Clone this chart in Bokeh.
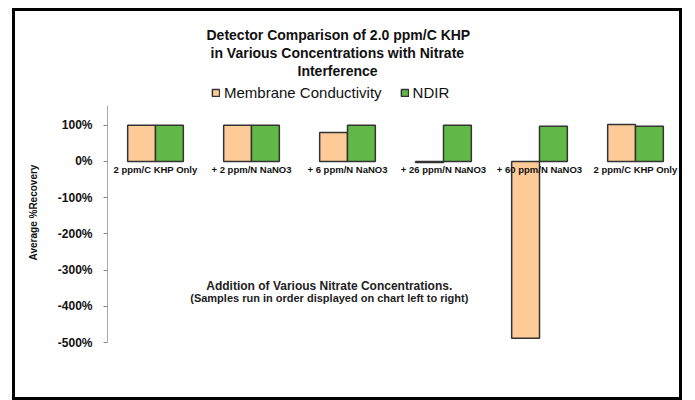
from bokeh.plotting import figure
from bokeh.models import (ColumnDataSource, Range1d, FixedTicker, PrintfTickFormatter,
                          Title, Legend, LegendItem, Label)
from bokeh.transform import dodge
from bokeh.core.properties import value
from bokeh.embed import file_html
from bokeh.resources import INLINE

# ---- data ----
categories = ["2 ppm/C KHP Only", "+ 2 ppm/N NaNO3", "+ 6 ppm/N NaNO3",
              "+ 26 ppm/N NaNO3", "+ 60 ppm/N NaNO3", "2 ppm/C KHP Only"]
membrane = [100, 100, 80, -3, -488, 102]
ndir = [100, 100, 100, 100, 97, 97]
y_ticks = [-500, -400, -300, -200, -100, 0, 100]
title_lines = ["Detector Comparison of 2.0 ppm/C KHP",
               "in Various Concentrations with Nitrate",
               "Interference"]
series_names = ["Membrane Conductivity", "NDIR"]
note_lines = ["Addition of Various Nitrate Concentrations.",
              "(Samples run in order displayed on chart left to right)"]

ORANGE = "#FCCB97"
GREEN = "#62B846"
FONT = "Liberation Sans"

xs = list(range(len(categories)))
src = ColumnDataSource(dict(x=xs, m=membrane, n=ndir, lab=categories,
                            zero=[0] * len(categories)))

p = figure(width=670, height=392, output_backend="svg", toolbar_location=None,
           x_range=Range1d(-0.5, len(categories) - 0.5), y_range=Range1d(-500, 218),
           min_border_left=92, min_border_right=2, min_border_top=71, min_border_bottom=61)
p.styles = {"border": "3px solid black", "margin-left": "12px", "margin-top": "8px"}
p.outline_line_color = None
p.xgrid.visible = False
p.ygrid.visible = False
p.xaxis.visible = False

r1 = p.vbar(x=dodge("x", -0.145, range=p.x_range), top="m", bottom=0, width=0.29,
            source=src, fill_color=ORANGE, line_color="#333333", line_width=1.5)
r2 = p.vbar(x=dodge("x", 0.145, range=p.x_range), top="n", bottom=0, width=0.29,
            source=src, fill_color=GREEN, line_color="#333333", line_width=1.5)

p.text(x="x", y="zero", text="lab", source=src, text_align="center",
       text_baseline="middle", y_offset=8, text_font=value(FONT),
       text_font_size="9.5px", text_font_style="bold", text_color="#111111")

ya = p.yaxis[0]
ya.bounds = (min(y_ticks), 155)
ya.ticker = FixedTicker(ticks=y_ticks)
ya.formatter = PrintfTickFormatter(format="%d%%")
ya.axis_line_color = "#aaaaaa"
ya.major_tick_line_color = "#888888"
ya.major_tick_out = 4
ya.major_tick_in = 0
ya.minor_tick_line_color = None
ya.major_label_standoff = 11
ya.major_label_text_font = FONT
ya.major_label_text_font_size = "12px"
ya.major_label_text_font_style = "bold"
ya.major_label_text_color = "#111111"
ya.axis_label = "Average %Recovery"
ya.axis_label_text_font = FONT
ya.axis_label_text_font_size = "10px"
ya.axis_label_text_font_style = "bold"
ya.axis_label_text_color = "#111111"
ya.axis_label_standoff = 16

legend = Legend(items=[LegendItem(label=series_names[0], renderers=[r1]),
                       LegendItem(label=series_names[1], renderers=[r2])],
                orientation="horizontal", location=(104, 241),
                label_text_font=FONT, label_text_font_size="15px",
                label_text_color="#111111",
                glyph_width=9, glyph_height=9, label_standoff=4, spacing=18,
                padding=2, margin=0, border_line_color=None,
                background_fill_alpha=0)
p.add_layout(legend)

# title lines, each centred over the whole chart box (left-aligned with a pixel offset)
title_offsets = [99, 103, 190]
for k in reversed(range(len(title_lines))):
    last = k == len(title_lines) - 1
    p.add_layout(Title(text=title_lines[k], align="left", offset=title_offsets[k],
                       text_font=FONT, text_font_size="14px", text_font_style="bold",
                       text_color="#111111",
                       vertical_align="top" if last else "bottom",
                       standoff=4 if last else 0), "above")

for i, (line, fs) in enumerate(zip(note_lines, ["12px", "11px"])):
    p.add_layout(Label(x=1.81, y=-343 - i * 33, text=line, text_align="center",
                       text_baseline="middle", text_font=FONT, text_font_size=fs,
                       text_font_style="bold", text_color="#222222"))

open("out.html", "w").write(file_html(p, INLINE))
